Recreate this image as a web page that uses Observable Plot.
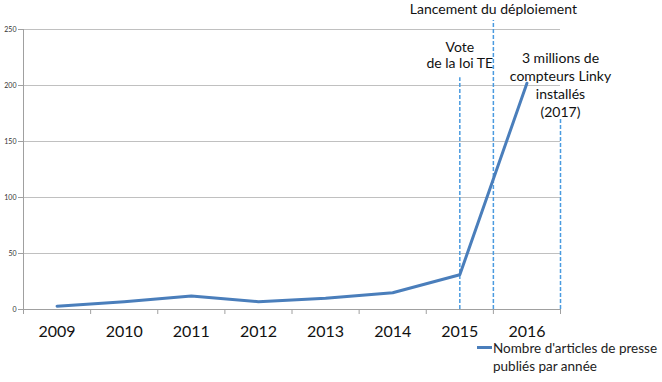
<!DOCTYPE html>
<html>
<head>
<meta charset="utf-8">
<script src="https://cdn.jsdelivr.net/npm/d3@7"></script>
<script src="https://cdn.jsdelivr.net/npm/@observablehq/plot@0.6"></script>
<style>
  body { margin: 0; background: #fff; font-family: Lato, "Open Sans", sans-serif; }
  #wrap { position: relative; width: 662px; height: 382px; overflow: hidden; }
  #legend-line { position: absolute; left: 477px; top: 346px; width: 15px; height: 3px; background: #4a7ebb; }
  #legend-text { position: absolute; left: 493px; top: 339px; font-size: 13.5px; line-height: 18px; color: #222; white-space: nowrap; }
</style>
</head>
<body>
<div id="wrap">
  <div id="chart"></div>
  <div id="legend-line"></div>
  <div id="legend-text">Nombre d'articles de presse<br>publiés par année</div>
</div>
<script>
const years = [2009, 2010, 2011, 2012, 2013, 2014, 2015, 2016];
const articles = [3, 7, 12, 7, 10, 15, 31, 202];
const yTicks = [0, 50, 100, 150, 200, 250];
const boundaries = [2008.5, 2009.5, 2010.5, 2011.5, 2012.5, 2013.5, 2014.5, 2015.5, 2016.5];

const eventX = [2015, 2015.5, 2016.5];
const eventTop = [207, 258, 170];
const eventLabels = ["Vote\nde la loi TE", "Lancement du déploiement", "3 millions de\ncompteurs Linky\ninstallés\n(2017)"];
const eventLabelY = [227, 268, 201];
const eventLineHeight = [1.15, 1.15, 1.29];

const events = eventX.map((x, i) => ({x, top: eventTop[i], label: eventLabels[i], ly: eventLabelY[i], lh: eventLineHeight[i]}));
const data = years.map((y, i) => ({year: y, value: articles[i]}));

const chart = Plot.plot({
  width: 662,
  height: 382,
  marginLeft: 23,
  marginRight: 102,
  marginTop: 29,
  marginBottom: 73,
  style: {fontFamily: "Lato, 'Open Sans', sans-serif", background: "#fff", overflow: "visible"},
  x: {domain: [2008.5, 2016.5], axis: null},
  y: {domain: [0, 250], axis: null},
  marks: [
    Plot.ruleY(yTicks.filter(d => d > 0), {stroke: "#c0c0c0", strokeWidth: 1}),
    Plot.ruleY([0], {stroke: "#a0a0a0", strokeWidth: 1}),
    Plot.ruleX([2008.5], {stroke: "#a0a0a0", strokeWidth: 1}),
    Plot.axisY({ticks: yTicks, tickSize: 5, tickPadding: 2, fontSize: 7, stroke: "#a0a0a0", color: "#333", tickFormat: d => d}),
    Plot.axisX({ticks: boundaries, tickSize: 5, tickFormat: () => "", stroke: "#a0a0a0"}),
    Plot.axisX({ticks: years, tickSize: 0, tickPadding: 16, fontSize: 16, color: "#111", tickFormat: d => String(d)}),
    ...events.map(e => Plot.ruleX([e], {x: "x", y1: 0, y2: "top", stroke: "#4a9be0", strokeWidth: 1.5, strokeDasharray: "4,2"})),
    Plot.line(data, {x: "year", y: "value", stroke: "#4a7ebb", strokeWidth: 3, strokeLinejoin: "round"}),
    ...events.map(e => Plot.text([e], {x: "x", y: "ly", text: "label", fontSize: 14, lineHeight: e.lh, textAnchor: "middle", fill: "#111", clip: false}))
  ]
});
document.getElementById("chart").appendChild(chart);
</script>
</body>
</html>
